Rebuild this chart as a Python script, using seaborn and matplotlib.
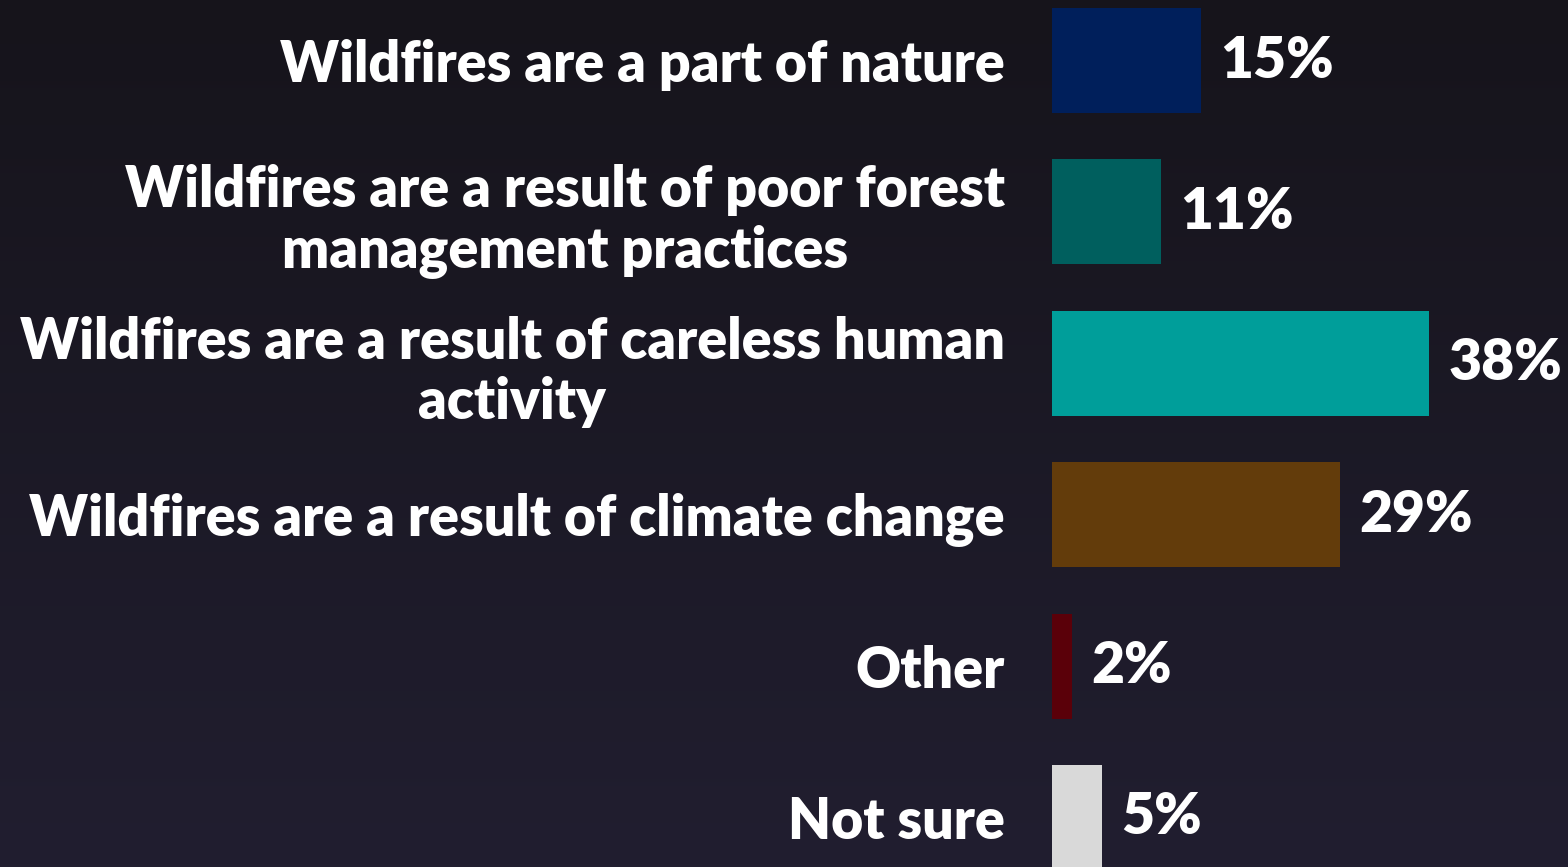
import numpy as np
import pandas as pd
import matplotlib.pyplot as plt
import seaborn as sns

# Survey answers and shares (%)
answers = [
    'Wildfires are a part of nature',
    'Wildfires are a result of poor forest\nmanagement practices',
    'Wildfires are a result of careless human\nactivity',
    'Wildfires are a result of climate change',
    'Other',
    'Not sure',
]
shares = [15, 11, 38, 29, 2, 5]
bar_colors = ['#001f5b', '#005f5e', '#009e9a', '#633c0b', '#5a0009', '#d9d9d9']

df = pd.DataFrame({'answer': answers, 'share': shares})

sns.set_theme(style='white')
plt.rcParams['font.family'] = ['Lato', 'DejaVu Sans']

fig = plt.figure(figsize=(15.68, 8.67), dpi=100)

# gradient background
bg = fig.add_axes([0, 0, 1, 1], zorder=0)
grad = np.linspace(0, 1, 256).reshape(-1, 1)
top = np.array([0x16, 0x14, 0x1b]) / 255
bottom = np.array([0x21, 0x1e, 0x30]) / 255
img = top + (bottom - top) * grad[:, :, None]
bg.imshow(img, aspect='auto', extent=[0, 1, 0, 1], origin='upper')
bg.set_axis_off()

ax = fig.add_axes([1052 / 1568, 0, 516 / 1568, 1], zorder=1)
ax.patch.set_alpha(0)

sns.barplot(data=df, y='answer', x='share', hue='answer', palette=bar_colors,
            orient='h', legend=False, width=0.694, saturation=1,
            linewidth=0, ax=ax)

ax.set_xlim(0, 52)
ax.set_ylim(5.327, -0.4)
ax.set_xlabel('')
ax.set_ylabel('')
ax.set_xticks([])
for s in ax.spines.values():
    s.set_visible(False)

ax.tick_params(axis='y', length=0, pad=34)
for lbl in ax.get_yticklabels():
    lbl.set_fontsize(40)
    lbl.set_fontweight('heavy')
    lbl.set_color('white')
    lbl.set_multialignment('center')
    lbl.set_linespacing(1.2)

for cont in ax.containers:
    ax.bar_label(cont, labels=[f'{v:.0f}%' for v in cont.datavalues],
                 padding=14, fontsize=41, fontweight='heavy', color='white')

fig.savefig('out.png', dpi=100)
